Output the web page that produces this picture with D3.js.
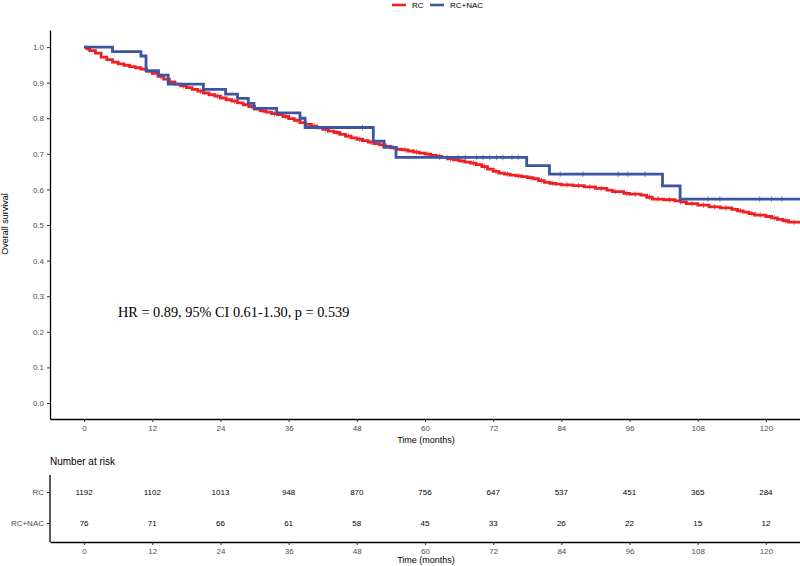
<!DOCTYPE html>
<html><head><meta charset="utf-8">
<script src="https://cdn.jsdelivr.net/npm/d3@7"></script>
<style>body{margin:0;background:#fff}svg{display:block;font-family:"Liberation Sans",Arial,sans-serif}</style>
</head><body><svg id="c" width="800" height="566"></svg>
<script>
const groups = ["RC", "RC+NAC"];
const colors = ["#ED2024", "#3B54A3"];
const xTicks = [0, 12, 24, 36, 48, 60, 72, 84, 96, 108, 120];
const yTicks = [0, 0.1, 0.2, 0.3, 0.4, 0.5, 0.6, 0.7, 0.8, 0.9, 1.0];
const riskRC = [1192, 1102, 1013, 948, 870, 756, 647, 537, 451, 365, 284];
const riskNAC = [76, 71, 66, 61, 58, 45, 33, 26, 22, 15, 12];
const hrText = "HR = 0.89, 95% CI 0.61-1.30, p = 0.539";

// red (RC) step curve: [time, survival]
const survRC = [[0,1.000],[0.5,0.995],[1,0.990],[2,0.983],[3,0.972],[4,0.965],[5,0.958],[6,0.953],[7,0.949],[8,0.945],[9,0.942],[10,0.938],[11,0.932],[12,0.926],[13,0.918],[14,0.910],[15,0.902],[16,0.896],[17,0.891],[18,0.886],[19,0.881],[20,0.876],[21,0.871],[22,0.866],[23,0.862],[24,0.857],[25,0.852],[26,0.848],[27,0.843],[28,0.838],[29,0.833],[30,0.826],[31,0.821],[32,0.817],[33,0.813],[34,0.810],[35,0.805],[36,0.799],[37,0.794],[38,0.788],[39,0.783],[40,0.778],[41,0.773],[42,0.769],[43,0.764],[44,0.760],[45,0.755],[46,0.750],[47,0.745],[48,0.741],[49,0.737],[50,0.733],[51,0.729],[52,0.725],[53,0.721],[54,0.717],[55,0.713],[56,0.711],[57,0.708],[58,0.705],[59,0.702],[60,0.699],[61,0.696],[62,0.693],[63,0.690],[64,0.686],[65,0.683],[66,0.680],[67,0.677],[68,0.674],[69,0.670],[70,0.664],[71,0.657],[72,0.651],[73,0.646],[74,0.643],[75,0.640],[76,0.638],[77,0.636],[78,0.633],[79,0.630],[80,0.625],[81,0.620],[82,0.617],[83,0.615],[84,0.613],[86,0.611],[88,0.607],[90,0.603],[92,0.598],[93,0.594],[95,0.589],[96,0.587],[98,0.584],[99,0.578],[100,0.573],[102,0.571],[104,0.568],[105,0.565],[106,0.560],[108,0.556],[110,0.551],[112,0.548],[114,0.544],[115,0.540],[116,0.536],[117,0.532],[118,0.528],[120,0.524],[121,0.520],[122,0.516],[123,0.512],[124,0.508]];
// blue (RC+NAC) step curve
const survNAC = [[0,1.000],[5.0,0.987],[10.0,0.975],[10.9,0.934],[13.1,0.921],[14.8,0.896],[21.0,0.881],[24.9,0.868],[27.0,0.856],[28.9,0.842],[29.9,0.828],[33.9,0.815],[38.0,0.800],[38.9,0.774],[50.9,0.736],[52.8,0.718],[54.9,0.690],[77.9,0.667],[81.9,0.643],[101.8,0.610],[104.9,0.573]];
const censRC = [13.5,17.5,20.5,23.5,26.5,29.5,31.5,33.5,35.5,37.5,40.5,42.5,44.5,46.5,48.5,50.5,52.5,54.5,56.5,58.5,60.5,62.5,64.5,66.5,68.5,70.5,72.5,74.5,76.5,78.5,80.5,82.5,85,87,89,91,93.5,95.5,97,99.5,101,103,105,107,109,111,113,115.5,117.5,119,121.5,123.5,125];
const censNAC = [49,62.6,63.9,65.8,67.1,69.1,70.2,71.4,72.6,73.7,75.3,76.4,83.8,87.8,94,95.7,98.7,109.8,111.9,118.9,121,122.8];
const tEnd = 126;

const svg = d3.select("#c");
const x = d3.scaleLinear().domain([-6, 126]).range([50, 800]);
const y = d3.scaleLinear().domain([-0.045, 1.048]).range([419, 30]);

function styleAxis(g){
  g.select(".domain").attr("stroke","#000").attr("stroke-width",1.3);
  g.selectAll(".tick line").attr("stroke","#333").attr("stroke-width",1);
  g.selectAll(".tick text").attr("fill","#4d4d4d").attr("font-size",8);
}

// y axis
svg.append("g").attr("transform","translate(50,0)")
  .call(d3.axisLeft(y).tickValues(yTicks).tickFormat(d3.format(".1f")).tickSize(3).tickSizeOuter(0))
  .call(styleAxis);
// x axis
svg.append("g").attr("transform","translate(0,419)")
  .call(d3.axisBottom(x).tickValues(xTicks).tickSize(3).tickSizeOuter(0))
  .call(styleAxis);

svg.append("text").attr("transform","translate(8,224) rotate(-90)").attr("text-anchor","middle")
  .attr("font-size",9).attr("fill","#000").text("Overall survival");
svg.append("text").attr("x",426).attr("y",443).attr("text-anchor","middle")
  .attr("font-size",9).attr("fill","#000").text("Time (months)");

// curves
const line = d3.line().x(d=>x(d[0])).y(d=>y(d[1])).curve(d3.curveStepAfter);
function survAt(data,t){let s=data[0][1];for(const d of data){if(d[0]<=t)s=d[1];}return s;}
[[survRC,censRC,colors[0]],[survNAC,censNAC,colors[1]]].forEach(([data,cens,col])=>{
  const pts = data.concat([[tEnd, data[data.length-1][1]]]);
  svg.append("path").datum(pts).attr("d",line).attr("fill","none")
    .attr("stroke",col).attr("stroke-width",2.8);
  svg.append("g").selectAll("line").data(cens).join("line")
    .attr("x1",d=>x(d)).attr("x2",d=>x(d))
    .attr("y1",d=>y(survAt(data,d))-2.8).attr("y2",d=>y(survAt(data,d))+2.8)
    .attr("stroke",col).attr("stroke-width",0.7);
});

// HR annotation
svg.append("text").attr("x",118).attr("y",317).attr("font-family","'Liberation Serif','Times New Roman',serif")
  .attr("font-size",14.3).attr("fill","#000").text(hrText);

// legend
const leg = [{n:groups[0],c:colors[0],x:392},{n:groups[1],c:colors[1],x:430}];
leg.forEach(l=>{
  svg.append("line").attr("x1",l.x).attr("x2",l.x+14).attr("y1",5).attr("y2",5).attr("stroke",l.c).attr("stroke-width",2.6);
  svg.append("text").attr("x",l.x+20).attr("y",8).attr("font-size",8).attr("fill","#000").text(l.n);
});

// risk table
svg.append("text").attr("x",50).attr("y",465).attr("font-size",10).attr("fill","#000").text("Number at risk");
const yr = d3.scalePoint().domain(groups).range([492,523]);
svg.append("g").attr("transform","translate(50,0)")
  .call(d3.axisLeft(yr).tickSize(3).tickSizeOuter(0))
  .call(styleAxis)
  .call(g=>g.select(".domain").attr("d","M0,475V542"));
svg.append("g").attr("transform","translate(0,542)")
  .call(d3.axisBottom(x).tickValues(xTicks).tickSize(3).tickSizeOuter(0))
  .call(styleAxis);
[[riskRC,groups[0]],[riskNAC,groups[1]]].forEach(([vals,g])=>{
  svg.append("g").selectAll("text").data(vals).join("text")
    .attr("x",(d,i)=>x(xTicks[i])).attr("y",yr(g)+3).attr("text-anchor","middle")
    .attr("font-size",8).attr("fill","#000").text(d=>d);
});
svg.append("text").attr("x",426).attr("y",563).attr("text-anchor","middle")
  .attr("font-size",9).attr("fill","#000").text("Time (months)");
</script></body></html>
